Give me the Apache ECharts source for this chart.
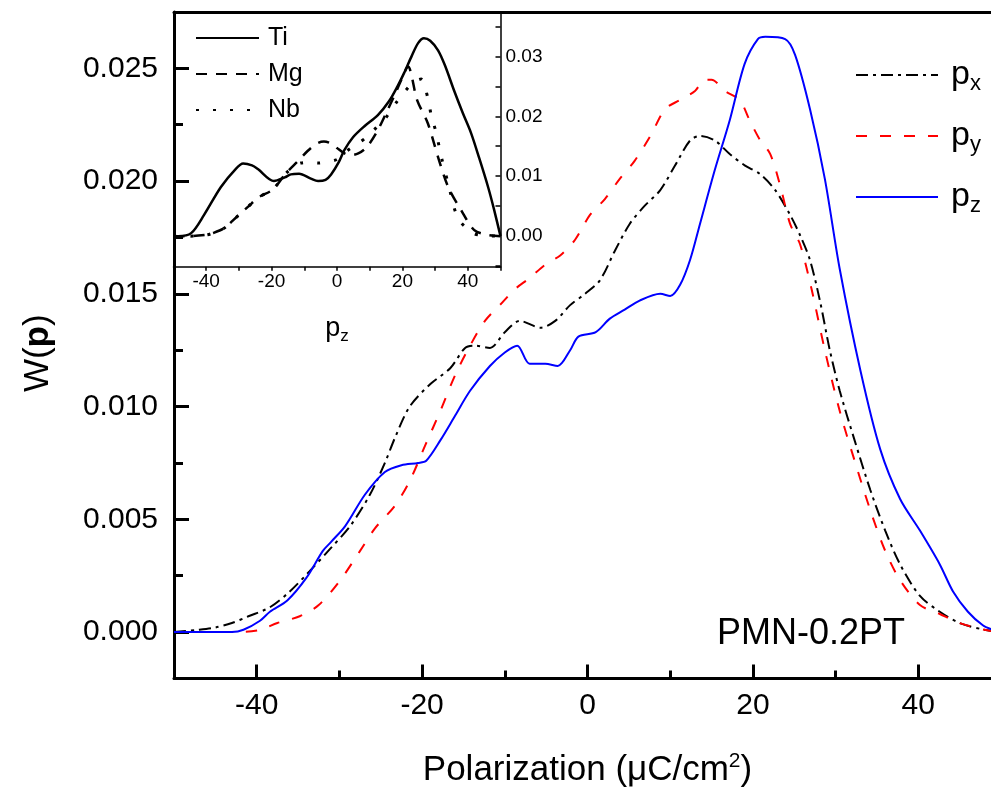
<!DOCTYPE html>
<html><head><meta charset="utf-8">
<script src="https://cdn.jsdelivr.net/npm/echarts@6/dist/echarts.min.js"></script>
<style>html,body{margin:0;padding:0;background:#fff}#c{width:991px;height:796px}</style>
</head><body><div id="c"></div>
<script>
// ---- main chart data (Polarization vs W(p)) ----
const pxX = [-50,-47,-45,-43,-41,-38.4,-36,-33.6,-31.1,-28.7,-26.3,-24.5,-23.3,-21.5,-19,-16.6,-14.8,-13.6,-11.8,-10,-8.2,-5.7,-3.9,-2.1,-0.3,1.5,3.3,5.1,6.9,8.8,10.6,12.4,13.6,15.4,17.2,19,20.9,22.7,24.5,25.7,26.9,28.1,29.3,30.5,32.3,34.2,36,37.8,40.2,42.6,45,48,50];
const pxY = [0,0.0001,0.0002,0.0004,0.0007,0.0011,0.0018,0.0027,0.0037,0.0047,0.0061,0.0075,0.0086,0.0100,0.0110,0.0117,0.0126,0.0127,0.0126,0.0133,0.0138,0.0135,0.0138,0.0145,0.0150,0.0156,0.0169,0.0181,0.0189,0.0196,0.0207,0.0218,0.0220,0.0218,0.0212,0.0207,0.0203,0.0196,0.0185,0.0176,0.0165,0.0147,0.0125,0.0107,0.0085,0.0063,0.0045,0.0030,0.0016,0.0009,0.0004,0.0001,0];
const pyX = [-50,-42,-39.6,-37.5,-34.8,-32.5,-29.9,-27.5,-25.7,-23.3,-21.5,-19.6,-17.8,-16,-14.2,-12.4,-10.6,-8.8,-7,-5.1,-3.3,-1.5,0.3,2.1,3.9,5.7,7.6,9.4,11.2,13,14.2,15,16.6,18.4,19.6,20.9,22.1,23.3,24.5,25.7,27.1,28.7,30.5,32.3,34.2,36,37.8,40.2,42.6,45,48,50];
const pyY = [0,0,0.0001,0.0004,0.0007,0.0012,0.0023,0.0036,0.0046,0.0056,0.0067,0.0083,0.0098,0.0114,0.0127,0.0138,0.0145,0.0152,0.0157,0.0163,0.0167,0.0174,0.0185,0.0192,0.0201,0.0209,0.0220,0.0232,0.0236,0.0240,0.0245,0.0245,0.0240,0.0236,0.0227,0.0218,0.0212,0.0198,0.0181,0.0172,0.0152,0.0125,0.0098,0.0076,0.0054,0.0036,0.0023,0.0012,0.0008,0.0004,0.0001,0];
const pzX = [-50,-45,-43,-41.6,-39.6,-38.4,-36.3,-34,-32,-31,-29.3,-26.9,-24.5,-22.5,-20.5,-19.5,-17.8,-16,-14.2,-11.8,-10,-8.5,-7,-5.1,-3.6,-2.1,-1.1,1,2.7,4.5,6.3,8.8,10,11.2,12.4,13.6,15.4,17.2,19,20.6,21.5,23.9,25.1,26.9,28.7,30.5,33,35.4,37.8,40.2,42.6,44.2,46,47.8,49,50];
const pzY = [0,0,0,0.0001,0.0005,0.0009,0.0014,0.0024,0.0036,0.0040,0.0047,0.0061,0.0071,0.0074,0.0075,0.0076,0.0085,0.0096,0.0107,0.0118,0.0124,0.0127,0.0119,0.0119,0.0118,0.0125,0.0131,0.0133,0.0139,0.0143,0.0147,0.0150,0.0149,0.0154,0.0165,0.0181,0.0205,0.0227,0.0252,0.0263,0.0264,0.0263,0.0256,0.0232,0.0201,0.0161,0.0116,0.0081,0.0059,0.0045,0.0030,0.0018,0.0009,0.0003,0.0001,0];
// ---- inset data (p_z by species) ----
const tiX = [-50,-48.6,-44.6,-40.7,-35.5,-31,-28.7,-26,-24.2,-19.3,-16,-14.1,-11.6,-8,-5.8,-3.5,-1.8,0.5,2.2,4.9,8.3,12.5,15.9,18.5,20.5,22.8,24.8,26.6,28.5,30.9,33,35.8,38.5,41,43.5,46.2,48,50];
const tiY = [0,0,0.0005,0.0035,0.0082,0.0112,0.0121,0.0118,0.0112,0.0092,0.0098,0.0103,0.0104,0.0096,0.0092,0.0094,0.0103,0.0123,0.0143,0.0165,0.0183,0.0202,0.0225,0.0250,0.0272,0.0300,0.0322,0.0330,0.0326,0.0310,0.0285,0.0243,0.0205,0.0172,0.0130,0.0082,0.0045,0];
const mgX = [-50,-45,-40,-38.5,-34.6,-30.3,-27,-24.2,-19.6,-15.6,-12,-9,-6,-4,-2,0,2,4,6.5,9,12,15,18,20,21.7,24.5,27.8,30.9,34,38,42,46,50];
const mgY = [0,0,0.0002,0.0004,0.0013,0.0034,0.0050,0.0064,0.0078,0.0105,0.0125,0.0142,0.0155,0.0158,0.0155,0.0147,0.0139,0.0135,0.0138,0.0148,0.0172,0.0205,0.0240,0.0265,0.0283,0.0227,0.0188,0.0132,0.0082,0.0043,0.0010,0.0002,0];
const nbX = [-50,-45,-40,-38.5,-34.6,-30.3,-27,-24.2,-19.6,-15.6,-11,-8,-5.8,-3,0,3,6,9,12,15,18,21,23.5,25.7,27.8,28.8,30.3,32,33.9,37,41.6,45,50];
const nbY = [0,0,0.0002,0.0004,0.0013,0.0034,0.0050,0.0064,0.0078,0.0105,0.0122,0.0123,0.0122,0.0124,0.0128,0.0142,0.0153,0.0165,0.0181,0.0198,0.0222,0.0243,0.0257,0.0262,0.0230,0.0202,0.0173,0.0130,0.0090,0.0030,0.0005,0.0001,0];

const FONT = 'Liberation Sans, Arial, sans-serif';
const pairs = (xs, ys) => xs.map((x, i) => [x, ys[i]]);
const BLK = '#000';

const chart = echarts.init(document.getElementById('c'), null, {renderer: 'canvas'});
const lineSeries = (name, xs, ys, xi, yi, color, width, type) => ({
  name, type: 'line', xAxisIndex: xi, yAxisIndex: yi, data: pairs(xs, ys),
  symbol: 'none', showSymbol: false, smooth: 0.3, clip: true,
  lineStyle: {color, width, type}, itemStyle: {color},
  emphasis: {disabled: true}, silent: true
});

chart.setOption({
  animation: false,
  backgroundColor: '#fff',
  textStyle: {fontFamily: FONT},
  grid: [
    {left: 174, top: 12, width: 827, height: 666.5, show: false, outerBoundsMode: 'none', containLabel: false},
    {left: 173.5, top: 12, width: 327, height: 254.7, show: false, outerBoundsMode: 'none', containLabel: false}
  ],
  title: {
    text: 'PMN-0.2PT', left: 717, top: 616, padding: 0,
    textStyle: {fontSize: 36, fontWeight: 'normal', color: BLK, fontFamily: FONT}
  },
  legend: [
    {
      data: ['p_x', 'p_y', 'p_z'], orient: 'vertical', left: 855, top: 58, padding: 0,
      itemWidth: 82, itemHeight: 14, itemGap: 24, selectedMode: false,
      itemStyle: {opacity: 0, borderWidth: 0},
      formatter: n => '{p|p}{s|' + n.slice(2) + '}',
      textStyle: {
        color: BLK, fontFamily: FONT,
        rich: {
          p: {fontSize: 34, lineHeight: 40, color: BLK, fontFamily: FONT, padding: [0, 0, 0, 8]},
          s: {fontSize: 22, lineHeight: 1, verticalAlign: 'bottom', color: BLK, fontFamily: FONT}
        }
      }
    },
    {
      data: ['Ti', 'Mg', 'Nb'], orient: 'vertical', left: 195, top: 25, padding: 0,
      itemWidth: 63, itemHeight: 10, itemGap: 10, selectedMode: false,
      itemStyle: {opacity: 0, borderWidth: 0},
      textStyle: {color: BLK, fontSize: 25, lineHeight: 26, fontFamily: FONT, padding: [0, 0, 0, 4]}
    }
  ],
  xAxis: [
    {
      type: 'value', gridIndex: 0, min: -50, max: 50, splitNumber: 5,
      axisLine: {onZero: false, lineStyle: {color: BLK, width: 3}},
      axisTick: {inside: true, length: 14, lineStyle: {color: BLK, width: 3}},
      minorTick: {show: true, splitNumber: 2, length: 8, lineStyle: {color: BLK, width: 3}},
      splitLine: {show: false},
      axisLabel: {showMinLabel: false, showMaxLabel: false, fontSize: 30, color: BLK, margin: 12, fontFamily: FONT},
      name: '{t|Polarization (\u03bcC/cm}{u|2}{t|)}', nameLocation: 'middle', nameGap: 72,
      nameTextStyle: {
        color: BLK, fontFamily: FONT,
        rich: {
          t: {fontSize: 35, lineHeight: 40, color: BLK, fontFamily: FONT},
          u: {fontSize: 21, lineHeight: 40, verticalAlign: 'top', color: BLK, fontFamily: FONT}
        }
      }
    },
    {
      type: 'value', gridIndex: 0, position: 'top', min: -50, max: 50,
      axisLine: {onZero: false, lineStyle: {color: BLK, width: 3}},
      axisTick: {show: false}, axisLabel: {show: false}, splitLine: {show: false}
    },
    {
      type: 'value', gridIndex: 1, min: -50, max: 50, splitNumber: 5,
      axisLine: {onZero: false, lineStyle: {color: BLK, width: 1.5}},
      axisTick: {inside: false, length: 4, lineStyle: {color: BLK, width: 1.5}},
      minorTick: {show: true, splitNumber: 2, length: 4, lineStyle: {color: BLK, width: 1.5}},
      splitLine: {show: false},
      axisLabel: {showMinLabel: false, showMaxLabel: false, fontSize: 19, color: BLK, margin: 6, fontFamily: FONT},
      name: '{p|p}{s|z}', nameLocation: 'middle', nameGap: 46,
      nameTextStyle: {
        color: BLK, fontFamily: FONT,
        rich: {
          p: {fontSize: 27, lineHeight: 32, color: BLK, fontFamily: FONT},
          s: {fontSize: 17, lineHeight: 1, verticalAlign: 'bottom', color: BLK, fontFamily: FONT}
        }
      }
    }
  ],
  yAxis: [
    {
      type: 'value', gridIndex: 0, min: -0.00206, max: 0.0275, splitNumber: 6,
      axisLine: {onZero: false, lineStyle: {color: BLK, width: 3}},
      axisTick: {inside: true, length: 15, lineStyle: {color: BLK, width: 3}},
      minorTick: {show: true, splitNumber: 2, length: 9, lineStyle: {color: BLK, width: 3}},
      splitLine: {show: false},
      axisLabel: {showMinLabel: false, showMaxLabel: false, fontSize: 30, color: BLK, margin: 16, fontFamily: FONT,
        formatter: v => v.toFixed(3)},
      name: '{n|W(}{b|p}{n|)}', nameLocation: 'middle', nameRotate: 90, nameGap: 118,
      nameTextStyle: {
        color: BLK, fontFamily: FONT, padding: [0, 16, 0, 0],
        rich: {
          n: {fontSize: 35, color: BLK, fontFamily: FONT},
          b: {fontSize: 35, fontWeight: 'bold', color: BLK, fontFamily: FONT}
        }
      }
    },
    {
      type: 'value', gridIndex: 1, position: 'right', min: -0.0051, max: 0.0374, splitNumber: 4,
      axisLine: {onZero: false, lineStyle: {color: BLK, width: 1.5}},
      axisTick: {inside: true, length: 5, lineStyle: {color: BLK, width: 1.5}},
      minorTick: {show: true, splitNumber: 2, length: 5, lineStyle: {color: BLK, width: 1.5}},
      splitLine: {show: false},
      axisLabel: {showMinLabel: false, showMaxLabel: false, fontSize: 19, color: BLK, margin: 5, fontFamily: FONT,
        formatter: v => v.toFixed(2)}
    }
  ],
  series: [
    lineSeries('p_x', pxX, pxY, 0, 0, '#000000', 2, [12, 5, 3, 5]),
    lineSeries('p_y', pyX, pyY, 0, 0, '#ff0000', 2, [11, 13]),
    lineSeries('p_z', pzX, pzY, 0, 0, '#0000ff', 2, 'solid'),
    lineSeries('Ti', tiX, tiY, 2, 1, '#000000', 2.5, 'solid'),
    lineSeries('Mg', mgX, mgY, 2, 1, '#000000', 2.5, [11, 9]),
    lineSeries('Nb', nbX, nbY, 2, 1, '#000000', 3, [3, 14])
  ]
});
</script>
</body></html>
